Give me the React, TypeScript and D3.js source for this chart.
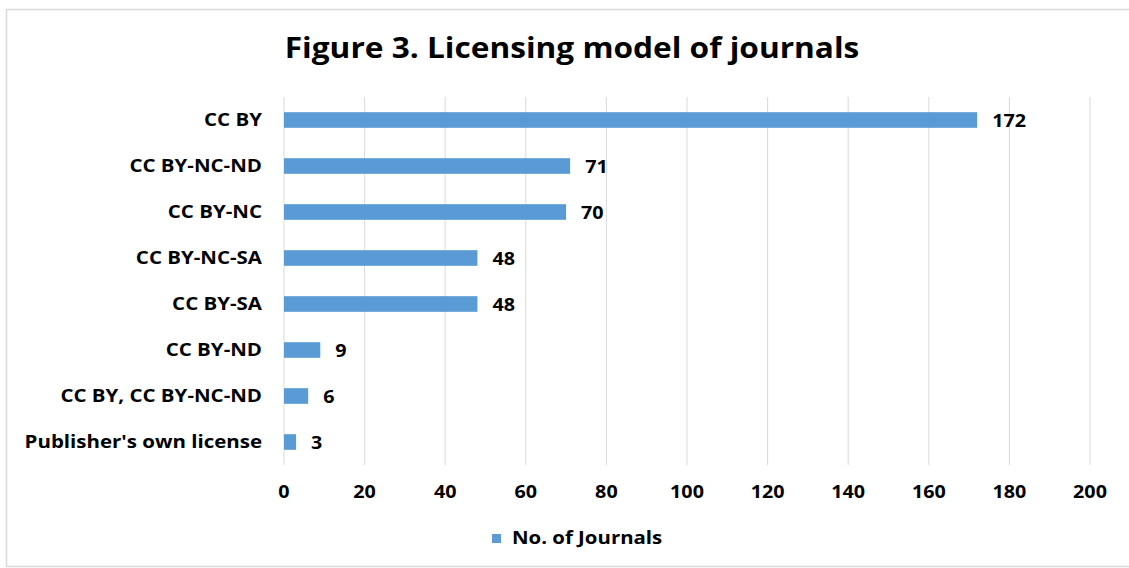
import React from "react";
import * as d3 from "d3";

const categories = [
  "CC BY",
  "CC BY-NC-ND",
  "CC BY-NC",
  "CC BY-NC-SA",
  "CC BY-SA",
  "CC BY-ND",
  "CC BY, CC BY-NC-ND",
  "Publisher's own license",
];
const values = [172, 71, 70, 48, 48, 9, 6, 3];
const xTicks = [0, 20, 40, 60, 80, 100, 120, 140, 160, 180, 200];
const title = "Figure 3. Licensing model of journals";
const seriesName = "No. of Journals";

const W = 1129;
const H = 568;
const FONT = "'Open Sans', 'DejaVu Sans', sans-serif";
const BAR = "#5B9BD5";

function T(props: {
  x: number;
  y: number;
  sx: number;
  size: number;
  anchor?: "start" | "middle" | "end";
  children: React.ReactNode;
}) {
  return (
    <g transform={`translate(${props.x},${props.y}) scale(${props.sx},1)`}>
      <text
        x={0}
        y={0}
        dy="0.35em"
        textAnchor={props.anchor || "start"}
        fontFamily={FONT}
        fontWeight={700}
        fontSize={props.size}
        fill="#000"
      >
        {props.children}
      </text>
    </g>
  );
}

export default function App() {
  const x = d3.scaleLinear().domain([0, 200]).range([284, 1090]);
  const y = d3
    .scaleBand<string>()
    .domain(categories)
    .range([97, 465])
    .paddingInner(0.66)
    .paddingOuter(0.33);
  return (
    <svg width={W} height={H} style={{ position: "absolute", left: 0, top: 0, background: "#fff" }}>
      <rect x={6.5} y={9.5} width={W} height={557} fill="#fff" stroke="#d9d9d9" strokeWidth={1.5} />
      <T x={572} y={48} sx={1.13} size={28} anchor="middle">
        {title}
      </T>
      {xTicks.map((t) => (
        <g key={t}>
          <line x1={x(t)} x2={x(t)} y1={97} y2={465} stroke="#d9d9d9" strokeWidth={1} />
          <T x={x(t)} y={492} sx={1.16} size={17} anchor="middle">
            {t}
          </T>
        </g>
      ))}
      {categories.map((c, i) => {
        const yy = y(c)!;
        const bh = y.bandwidth();
        return (
          <g key={c}>
            <rect x={x(0)} y={yy} width={x(values[i]) - x(0)} height={bh} fill={BAR} />
            <T x={262} y={yy + bh / 2} sx={1.17} size={17.5} anchor="end">
              {c}
            </T>
            <T x={x(values[i]) + 15} y={yy + bh / 2 + 1} sx={1.16} size={17}>
              {values[i]}
            </T>
          </g>
        );
      })}
      <rect x={492} y={534} width={9} height={9} fill={BAR} />
      <T x={512} y={538.5} sx={1.2} size={17}>
        {seriesName}
      </T>
    </svg>
  );
}
